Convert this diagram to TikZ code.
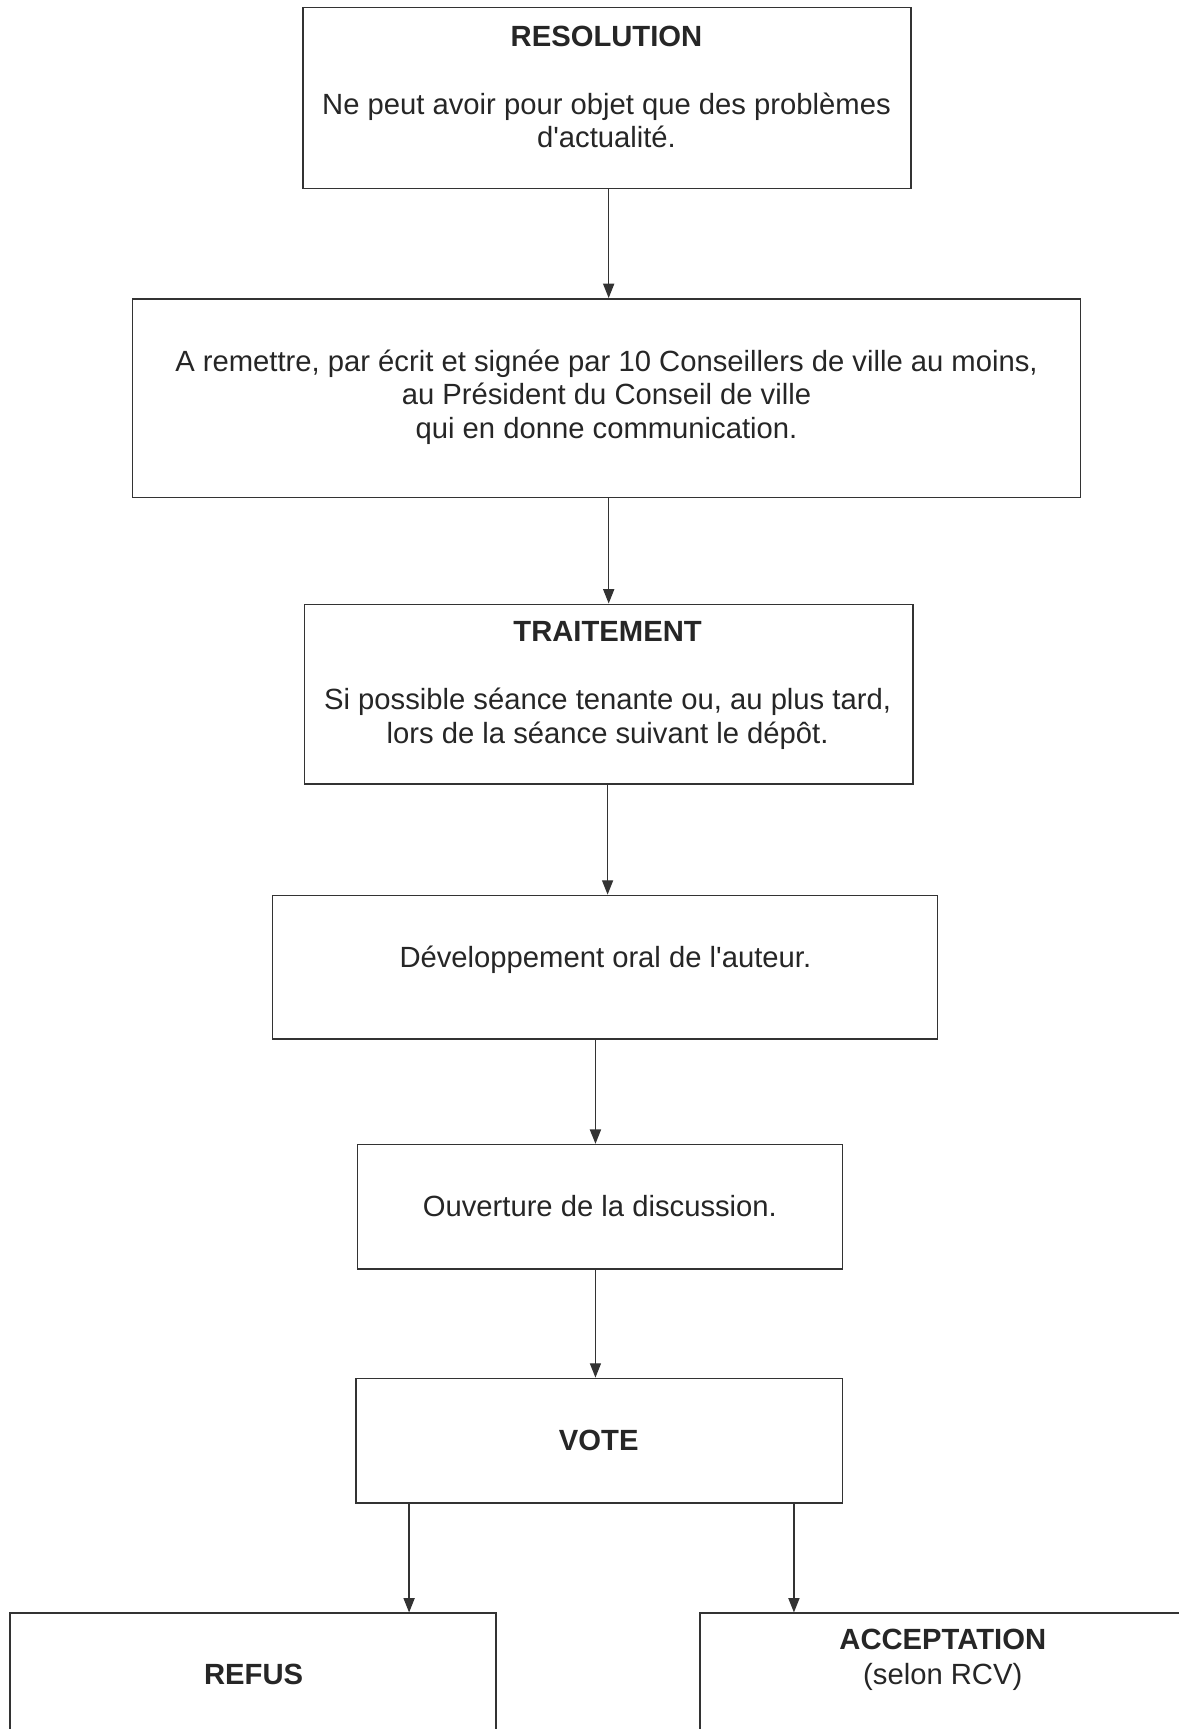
\documentclass[tikz,border=0pt]{standalone}
\usepackage{fontspec}
\setmainfont{Liberation Sans}
\usetikzlibrary{arrows.meta}
\definecolor{ink}{HTML}{333333}
\definecolor{txt}{HTML}{262626}
\tikzset{
  box/.style={draw=ink, line width=1.4pt, rectangle, inner sep=0pt},
  lbl/.style={anchor=base, inner sep=0pt, text=txt, font=\fontsize{26.5}{30}\selectfont},
  ttl/.style={lbl, font=\fontsize{26.5}{30}\selectfont\bfseries},
  arr/.style={draw=ink, line width=1.3pt, -{Triangle[length=13pt,width=10pt]}}
}
\begin{document}
\begin{tikzpicture}[x=1pt,y=1pt]
\clip (0,0) rectangle (1069,-1568);
\fill[white] (0,0) rectangle (1069,-1568);
% boxes
\node[box, minimum width=551pt, minimum height=164pt] (b1) at (550.5,-89) {};
\node[box, minimum width=860pt, minimum height=180pt] (b2) at (550,-361) {};
\node[box, minimum width=552pt, minimum height=163pt] (b3) at (552,-629.5) {};
\node[box, minimum width=603pt, minimum height=130pt] (b4) at (548.5,-877) {};
\node[box, minimum width=440pt, minimum height=113pt] (b5) at (544,-1094.5) {};
\node[box, minimum width=441pt, minimum height=113pt] (b6) at (543.5,-1306.5) {};
\node[box, minimum width=441pt, minimum height=200pt] (b7) at (229.5,-1563) {};
\node[box, minimum width=500pt, minimum height=200pt] (b8) at (885,-1563) {};
% texts
\node[ttl] (t1) at (550,-42) {RESOLUTION};
\node[lbl] (t2) at (550,-104) {Ne peut avoir pour objet que des problèmes};
\node[lbl] (t3) at (550,-134) {d\textquotesingle actualité.};
\node[lbl] (t4) at (550,-337) {A remettre, par écrit et signée par 10 Conseillers de ville au moins,};
\node[lbl] (t5) at (550,-367) {au Président du Conseil de ville};
\node[lbl] (t6) at (550,-398) {qui en donne communication.};
\node[ttl] (t7) at (551,-582) {TRAITEMENT};
\node[lbl] (t8) at (551,-643) {Si possible séance tenante ou, au plus tard,};
\node[lbl] (t9) at (551,-674) {lors de la séance suivant le dépôt.};
\node[lbl] (t10) at (549,-877) {Développement oral de l\textquotesingle auteur.};
\node[lbl] (t11) at (544,-1103) {Ouverture de la discussion.};
\node[ttl] (t12) at (543,-1315) {VOTE};
\node[ttl] (t13) at (230,-1528) {REFUS};
\node[ttl] (t14) at (855,-1496) {ACCEPTATION};
\node[lbl] (t15) at (855,-1528) {(selon RCV)};
% arrow x positions
\coordinate (x1) at (552,0);
\coordinate (x3) at (551,0);
\coordinate (x4) at (540,0);
\coordinate (xl) at (371,0);
\coordinate (xr) at (720,0);
% connectors
\draw[arr] (b1.south -| x1) -- (b2.north -| x1);
\draw[arr] (b2.south -| x1) -- (b3.north -| x1);
\draw[arr] (b3.south -| x3) -- (b4.north -| x3);
\draw[arr] (b4.south -| x4) -- (b5.north -| x4);
\draw[arr] (b5.south -| x4) -- (b6.north -| x4);
\draw[arr] (b6.south -| xl) -- (b7.north -| xl);
\draw[arr] (b6.south -| xr) -- (b8.north -| xr);
\end{tikzpicture}
\end{document}
